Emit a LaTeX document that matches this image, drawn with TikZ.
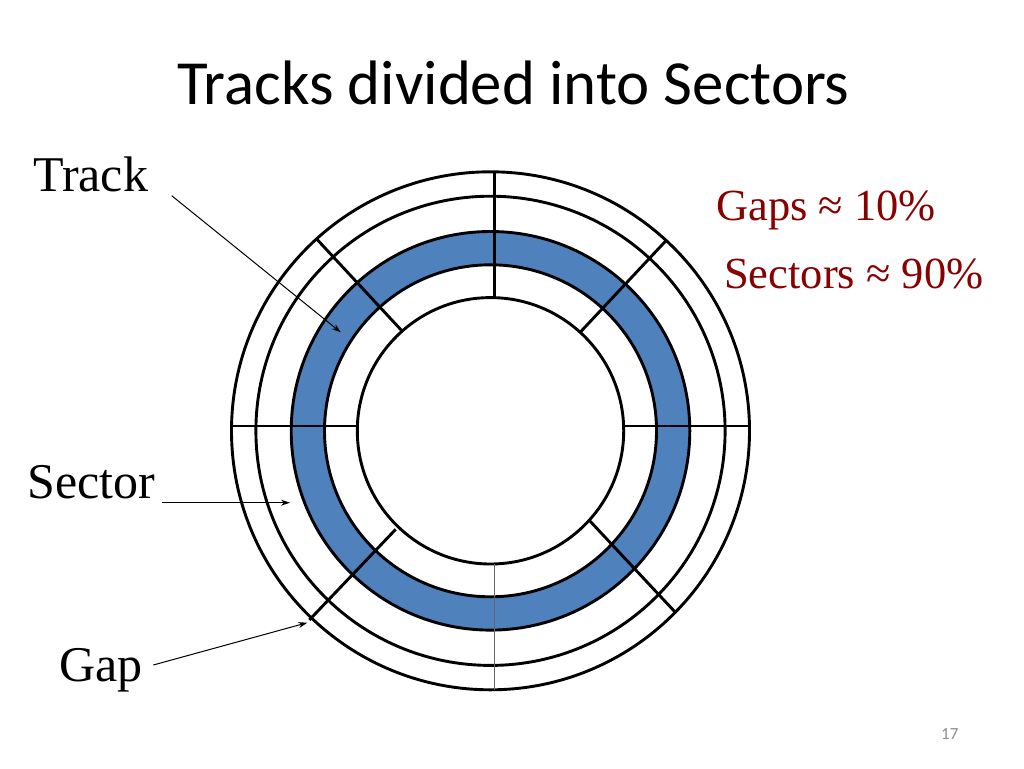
\documentclass[tikz,border=0pt]{standalone}
\usepackage{fontspec}
\setmainfont{Liberation Serif}
\newfontfamily\titlefont{Carlito}
\usetikzlibrary{arrows.meta}
\definecolor{trackblue}{RGB}{79,129,189}
\definecolor{darkred}{RGB}{136,0,0}
\definecolor{numgray}{RGB}{140,140,140}
\tikzset{
  ring/.style={draw=black, line width=2.9pt},
  sectorline/.style={draw=black, line width=2.9pt},
  thinline/.style={draw=black!60, line width=1pt},
  pointer/.style={draw=black, line width=1pt, -{Stealth[length=9pt,width=6pt]}},
  lbl/.style={anchor=base west, inner sep=0pt, font=\fontsize{50}{60}\selectfont},
  stat/.style={anchor=base west, inner sep=0pt, text=darkred, font=\fontsize{44.5}{52}\selectfont}
}
\begin{document}
\begin{tikzpicture}[x=1pt,y=-1pt]
\useasboundingbox[fill=white] (0,0) rectangle (1024,768);
% center of circles
\coordinate (C) at (490.5,430.8);
% blue track
\fill[trackblue, even odd rule] (C) circle[radius=199.3pt] (C) circle[radius=166pt];
% circles
\foreach \r in {259,234.6,199.3,166,133.2}
  \draw[ring] (C) circle[radius=\r pt];
% sector boundaries
\coordinate (tA) at (494.5,171.5); \coordinate (tB) at (494.5,297.5);
\coordinate (lA) at (231.5,426);   \coordinate (lB) at (357.5,426);
\coordinate (rA) at (750,426);     \coordinate (rB) at (623,426);
\coordinate (bA) at (494.7,690);   \coordinate (bB) at (494.7,563.5);
\coordinate (ulA) at (316,238.3);  \coordinate (ulB) at (402.7,331.7);
\coordinate (urA) at (665.7,241);  \coordinate (urB) at (580.7,331.7);
\coordinate (llA) at (309.3,620);  \coordinate (llB) at (395.7,529.3);
\coordinate (lrA) at (675.7,612.7);\coordinate (lrB) at (589,520);
\draw[sectorline] (tA) -- (tB);
\draw[sectorline] (lA) -- (lB);
\draw[sectorline] (rA) -- (rB);
\draw[sectorline] (ulA) -- (ulB);
\draw[sectorline] (urA) -- (urB);
\draw[sectorline] (llA) -- (llB);
\draw[sectorline] (lrA) -- (lrB);
\draw[thinline] (bA) -- (bB);
% title
\node[anchor=base west, inner sep=0pt, font=\titlefont\fontsize{62.8}{75}\selectfont] (title) at (177,104) {Tracks divided into Sectors};
% labels
\node[lbl] (track) at (33,191.7) {Track};
\node[lbl] (sector) at (27,498.3) {Sector};
\node[lbl] (gap) at (59,681.7) {Gap};
\node[stat] (gaps) at (716,220) {Gaps ≈ 10\%};
\node[stat] (sectors) at (724,288.3) {Sectors ≈ 90\%};
\node[anchor=base west, inner sep=0pt, text=numgray, font=\titlefont\fontsize{17}{20}\selectfont] (num) at (941,739) {17};
% pointers
\coordinate (trackS) at (171.7,195.7); \coordinate (trackE) at (340.7,332.3);
\coordinate (sectorS) at (161.7,502.7); \coordinate (sectorE) at (290,502.7);
\coordinate (gapS) at (153.3,665); \coordinate (gapE) at (307.3,622.7);
\draw[pointer] (trackS) -- (trackE);
\draw[pointer] (sectorS) -- (sectorE);
\draw[pointer] (gapS) -- (gapE);
\end{tikzpicture}
\end{document}
